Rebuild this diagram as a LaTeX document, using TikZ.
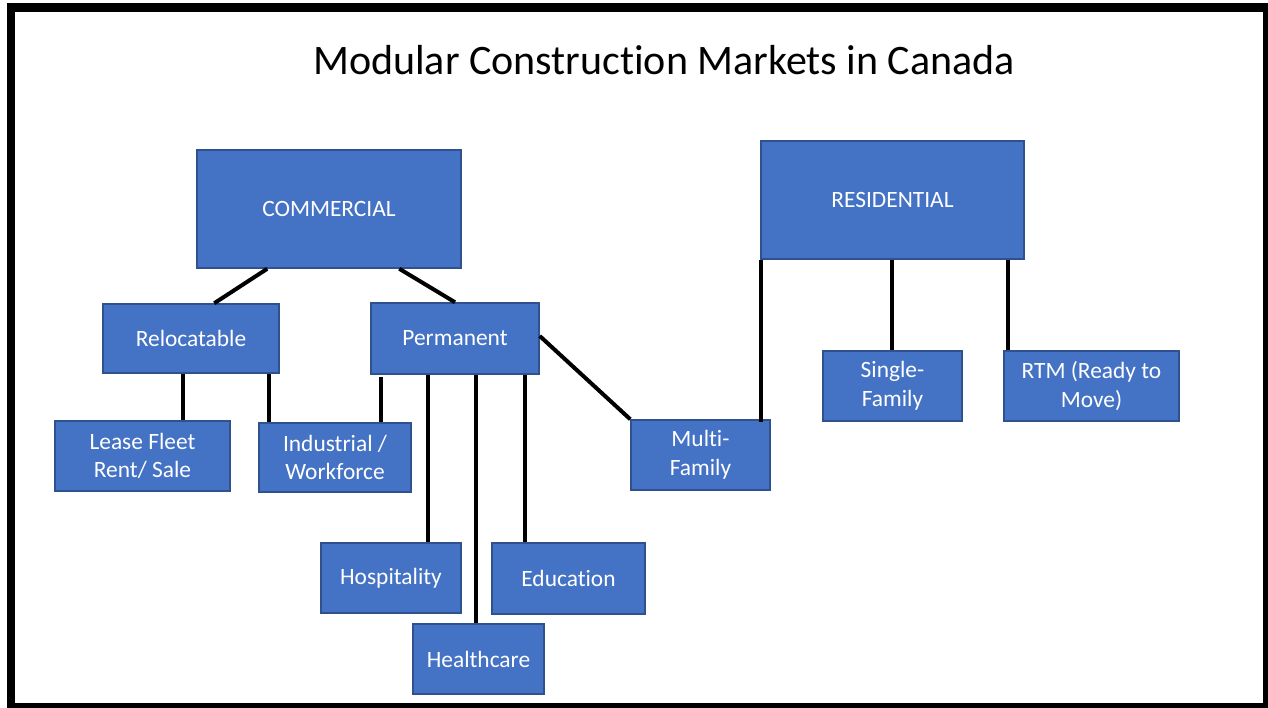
\documentclass[tikz,border=0pt]{standalone}
\usepackage{fontspec}
\setmainfont{Carlito}[Ligatures={NoCommon,NoRare,NoContextual}]
\usetikzlibrary{calc}
\definecolor{boxfill}{HTML}{4472C4}
\definecolor{boxedge}{HTML}{2F528F}
\tikzset{
  box/.style={draw=boxedge, line width=1.5pt, fill=boxfill, text=white, align=center,
    inner sep=0pt, font=\fontsize{23.4}{28.5}\selectfont},
  link/.style={draw=black, line width=4pt},
}
\begin{document}
\begin{tikzpicture}[x=1pt,y=-1pt]
\useasboundingbox (0,0) rectangle (1268,708);
\fill[white] (0,0) rectangle (1268,708);
\fill[black] (7,3) rectangle (1268,708);
\fill[white] (15,12) rectangle (1263,703);
\node[font=\fontsize{42}{50}\selectfont, inner sep=0pt] (title) at (664,60) {Modular Construction Markets in Canada};

\node[box, minimum width=264, minimum height=118] (com) at (329,209) {COMMERCIAL};
\node[box, minimum width=263, minimum height=118] (res) at (892.5,200) {RESIDENTIAL};
\node[box, minimum width=176, minimum height=69] (rel) at (191,338.5) {Relocatable};
\node[box, minimum width=168, minimum height=71] (perm) at (455,338.5) {Permanent};
\node[box, minimum width=175, minimum height=70] (lease) at (142.5,456) {Lease Fleet\\Rent/ Sale};
\node[box, minimum width=152, minimum height=69] (ind) at (335,457.5) {Industrial /\\Workforce};
\node[box, minimum width=140, minimum height=70] (hosp) at (391,578) {Hospitality};
\node[box, minimum width=131, minimum height=70] (health) at (478.5,659) {Healthcare};
\node[box, minimum width=153, minimum height=71] (edu) at (568.5,578.5) {Education};
\node[box, minimum width=139, minimum height=70] (multi) at (700.5,455) {Multi-\\Family};
\node[box, minimum width=139, minimum height=70] (single) at (892.5,386) {Single-\\Family};
\node[box, minimum width=175, minimum height=70] (rtm) at (1091.5,386) {RTM (Ready to\\Move)};

% commercial branches
\draw[link] ($(com.south west)+(71,0)$) -- ($(rel.north west)+(112,0)$);
\draw[link] ($(com.south west)+(203,0)$) -- (perm.north);
\draw[link] ($(perm.east)+(0,-2.5)$) -- (multi.north west);
% relocatable
\draw[link] ($(rel.south west)+(81,0)$) coordinate (r1) -- (r1 |- lease.north);
\draw[link] ($(rel.south west)+(167,0)$) coordinate (r2) -- (r2 |- ind.north);
% permanent
\draw[link] ($(perm.south west)+(11,2)$) coordinate (p1) -- (p1 |- ind.north);
\draw[link] ($(perm.south west)+(58,0)$) coordinate (p2) -- (p2 |- hosp.north);
\draw[link] ($(perm.south west)+(106,0)$) coordinate (p3) -- (p3 |- health.north);
\draw[link] ($(perm.south west)+(155,0)$) coordinate (p4) -- (p4 |- edu.north);
% residential
\draw[link] ($(res.south west)+(1,0)$) coordinate (s1) -- ($(s1 |- multi.north)+(0,3)$);
\draw[link] ($(res.south west)+(132,0)$) coordinate (s2) -- (s2 |- single.north);
\draw[link] ($(res.south west)+(248,0)$) coordinate (s3) -- (s3 |- rtm.north);
\end{tikzpicture}
\end{document}
